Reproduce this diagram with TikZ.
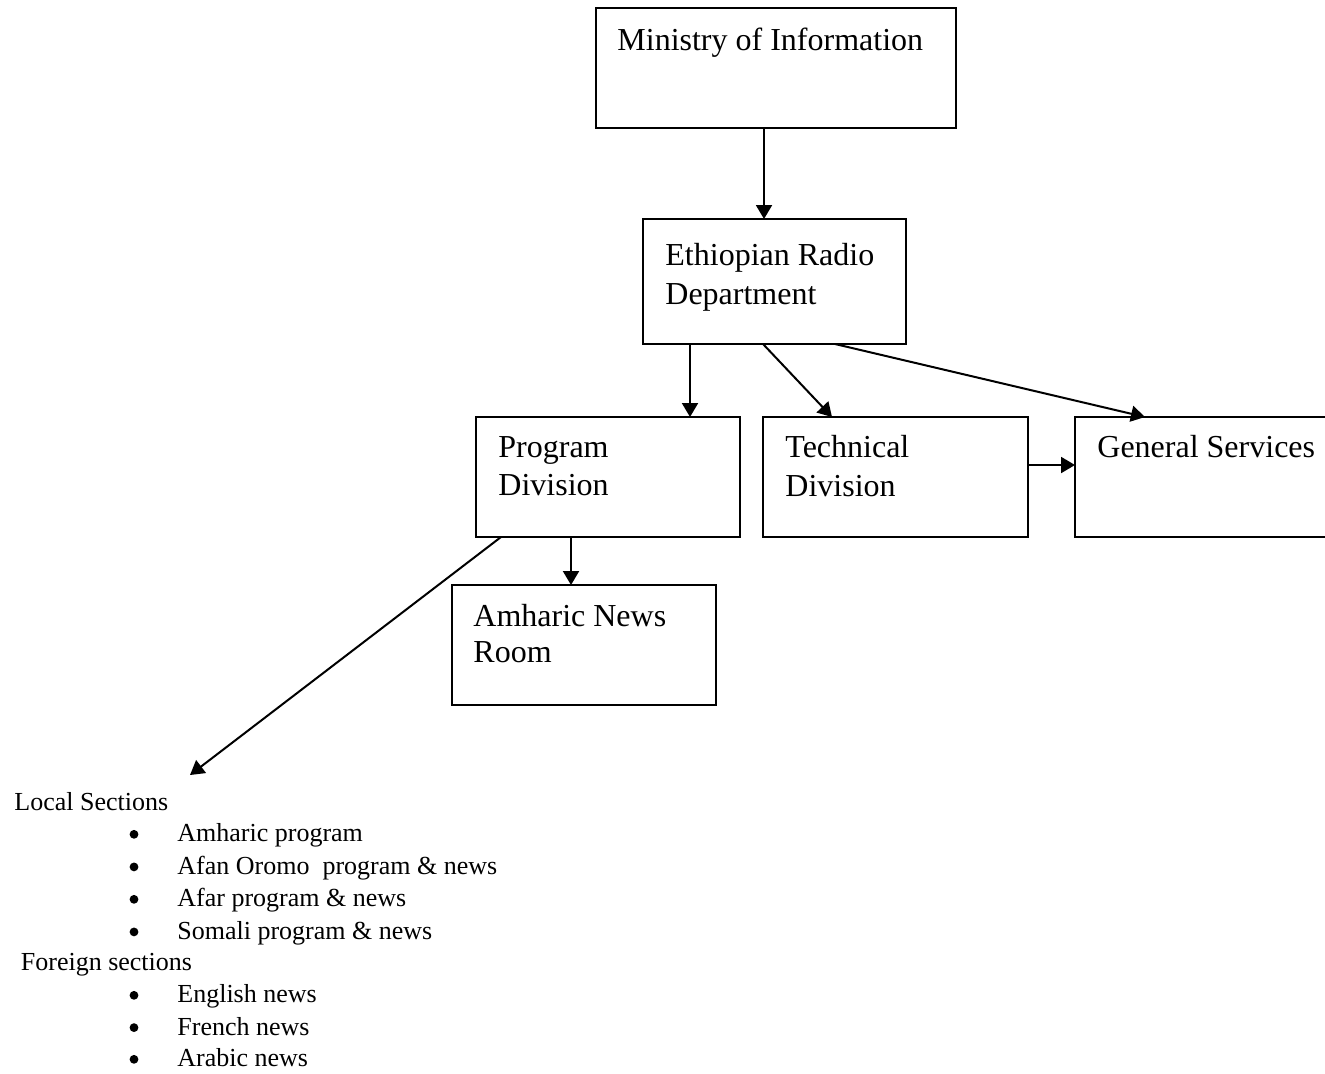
\documentclass[tikz,border=0pt]{standalone}
\usepackage{fontspec}
\setmainfont{Liberation Serif}
\usetikzlibrary{arrows.meta,calc}
\begin{document}
\begin{tikzpicture}[x=0.5pt,y=-0.5pt,
  box/.style={draw,line width=1pt,rectangle,inner sep=0pt,outer sep=0pt,minimum height=60pt},
  lbl/.style={inner sep=0pt,anchor=base west,font=\fontsize{16}{19}\selectfont},
  itm/.style={inner sep=0pt,anchor=base west,font=\fontsize{13}{16}\selectfont},
  bul/.style={circle,fill,inner sep=0pt,minimum size=4.4pt},
  arr/.style={line width=1pt,-{Triangle[length=7pt,width=8pt]}}]
\useasboundingbox (0,0) rectangle (1325,1073);
\clip (0,0) rectangle (1325,1073);
% boxes
\node[box,minimum width=180pt] (min) at (776,68) {};
\node[box,minimum width=131.5pt,minimum height=62.5pt] (erd) at (774.5,281.5) {};
\node[box,minimum width=132pt] (prog) at (608,477) {};
\node[box,minimum width=132.5pt] (tech) at (895.5,477) {};
\node[box,minimum width=130pt] (gen) at (1205,477) {};
\node[box,minimum width=132pt] (amh) at (584,645) {};
% box texts
\node[lbl] (minT) at (617,50) {Ministry of Information};
\node[lbl] (erdT1) at (665,265) {Ethiopian Radio};
\node[lbl] (erdT2) at (665,304) {Department};
\node[lbl] (progT1) at (498,457) {Program};
\node[lbl] (progT2) at (498,495) {Division};
\node[lbl] (techT1) at (785,457) {Technical};
\node[lbl] (techT2) at (785,496) {Division};
\node[lbl] (genT) at (1097,457) {General Services};
\node[lbl] (amhT1) at (473,626) {Amharic News};
\node[lbl] (amhT2) at (473,662) {Room};
% list
\coordinate (listtop) at (190,775);
\node[itm] (loc) at (14,810) {Local Sections};
\node[bul] (b1) at (134,834.3) {};
\node[itm] (i1) at (177,841.7) {Amharic program};
\node[bul] (b2) at (134,866.9) {};
\node[itm] (i2) at (177,874.3) {Afan Oromo\ \ program \& news};
\node[bul] (b3) at (134,899.3) {};
\node[itm] (i3) at (177,906.7) {Afar program \& news};
\node[bul] (b4) at (134,931.9) {};
\node[itm] (i4) at (177,939.3) {Somali program \& news};
\node[itm] (for) at (20.5,970) {Foreign sections};
\node[bul] (b5) at (134,995.3) {};
\node[itm] (i5) at (177,1002.7) {English news};
\node[bul] (b6) at (134,1027.6) {};
\node[itm] (i6) at (177,1035) {French news};
\node[bul] (b7) at (134,1059.3) {};
\node[itm] (i7) at (177,1066.7) {Arabic news};
% arrows
\draw[arr] ([xshift=-6pt]min.south) -- ([xshift=-5.25pt]erd.north);
\draw[arr] ([xshift=-42.25pt]erd.south) -- ([xshift=41pt]prog.north);
\draw[arr] ([xshift=-5.75pt]erd.south) -- ([xshift=-31.75pt]tech.north);
\draw[arr] ([xshift=30.25pt]erd.south) -- ([xshift=-30pt]gen.north);
\draw[arr] ([yshift=6pt]tech.east) -- ([yshift=6pt]gen.west);
\draw[arr] ([xshift=-18.5pt]prog.south) -- ([xshift=-6.5pt]amh.north);
\draw[arr] ([xshift=-53.5pt]prog.south) -- (listtop);
\end{tikzpicture}
\end{document}
